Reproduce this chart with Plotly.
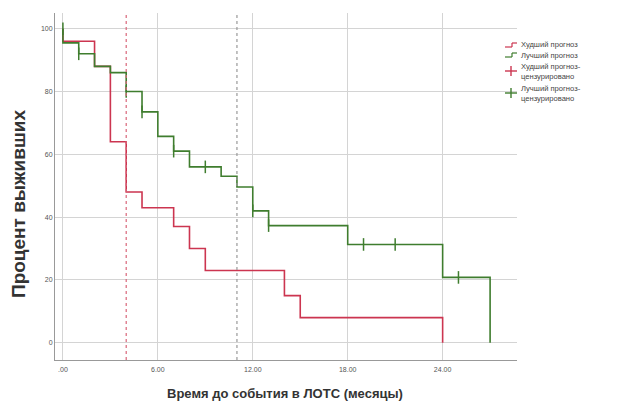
import plotly.graph_objects as go

# Survival step data (months, percent)
worse_t = [0, 0, 2, 3, 4, 5, 7, 8, 9, 14, 15, 24]
worse_s = [100, 96, 88, 64, 48, 43, 37, 30, 23, 15, 8, 0]
better_t = [0, 0, 1, 2, 3, 4, 5, 6, 7, 8, 10, 11, 12, 13, 18, 24, 27]
better_s = [100, 95.5, 92, 88, 86, 80, 73.5, 65.7, 61, 56, 53, 49.6, 42, 37.3, 31.3, 20.8, 0]
better_cens_t = [0, 1, 4, 5, 7, 9, 12, 13, 19, 21, 25]
better_cens_s = [100, 92, 80, 73.5, 61, 56, 42, 37.3, 31.3, 31.3, 20.8]
ref_lines = [4, 11]
ref_colors = ["#d9667a", "#999999"]
x_ticks = [0, 6, 12, 18, 24]
x_labels = [".00", "6.00", "12.00", "18.00", "24.00"]
y_ticks = [0, 20, 40, 60, 80, 100]
legend_names = ["Худший прогноз", "Лучший прогноз",
                "Худший прогноз-<br>цензурировано", "Лучший прогноз-<br>цензурировано"]

RED = "#cc3550"
GREEN = "#3f7d2e"

# page is rendered with an 8px body margin; figure sized to fit window
W, H = 616, 394
PL, PR, PT, PB = 55, 517, 13, 360  # plot area in page pixels


def px(xp):
    return (xp - PL) / (PR - PL)


def py(yp):
    return (PB - yp) / (PB - PT)


fig = go.Figure()
fig.add_trace(go.Scatter(x=worse_t, y=worse_s, mode="lines", line_shape="hv",
                         line=dict(color=RED, width=1.6), showlegend=False))
fig.add_trace(go.Scatter(x=better_t, y=better_s, mode="lines", line_shape="hv",
                         line=dict(color=GREEN, width=1.6), showlegend=False))
fig.add_trace(go.Scatter(x=better_cens_t, y=better_cens_s, mode="markers",
                         marker=dict(symbol="line-ns", size=9, line=dict(color=GREEN, width=1.5)),
                         showlegend=False))

shapes = []
annots = []

for xv, col in zip(ref_lines, ref_colors):
    shapes.append(dict(type="line", xref="x", yref="paper", x0=xv, x1=xv, y0=0, y1=1,
                       line=dict(color=col, width=1.2, dash="dot"), layer="above"))


def seg(xa, ya, xb, yb, col, w):
    shapes.append(dict(type="line", xref="paper", yref="paper",
                       x0=px(xa), x1=px(xb), y0=py(ya), y1=py(yb),
                       line=dict(color=col, width=w)))


# manual compact legend
leg_text_x = 519
leg_rows = [45, 55, 71, 93]
leg_colors = [RED, GREEN, RED, GREEN]
for i, (name, yy, col) in enumerate(zip(legend_names, leg_rows, leg_colors)):
    annots.append(dict(text=name, x=px(leg_text_x), y=py(yy), xref="paper", yref="paper",
                       xanchor="left", yanchor="middle", align="left", showarrow=False,
                       font=dict(size=7.6, color="#444")))
    if i < 2:
        seg(505, yy + 2, 512, yy + 2, col, 1.2)
        seg(512, yy + 2, 512, yy - 2, col, 1.2)
        seg(512, yy - 2, 517, yy - 2, col, 1.2)
    else:
        seg(505, yy, 517, yy, col, 1.4)
        seg(511, yy - 5, 511, yy + 5, col, 1.4)

annots.append(dict(text="<b>Процент выживших</b>", x=0, y=py(204), xref="paper", yref="paper",
                   xshift=-37, textangle=-90, showarrow=False, xanchor="center", yanchor="middle",
                   font=dict(size=19, color="#333")))
annots.append(dict(text="<b>Время до события в ЛОТС (месяцы)</b>", x=px(285), y=py(393),
                   xref="paper", yref="paper", showarrow=False, xanchor="center", yanchor="middle",
                   font=dict(size=13, color="#333")))

fig.update_layout(
    width=W, height=H,
    margin=dict(l=PL - 8, r=624 - PR, t=PT - 8, b=402 - PB),
    plot_bgcolor="white", paper_bgcolor="white",
    font=dict(family="Liberation Sans, Arial, sans-serif", size=7, color="#333"),
    showlegend=False,
    xaxis=dict(range=[-0.5, 28.7], tickvals=x_ticks, ticktext=x_labels,
               showgrid=True, gridcolor="#d4d4d4", gridwidth=1, zeroline=False,
               showline=True, linecolor="#999", linewidth=1, ticks="",
               ticklabelstandoff=3, tickfont=dict(size=7, color="#555")),
    yaxis=dict(range=[-5.5, 105], tickvals=y_ticks,
               showgrid=True, gridcolor="#d4d4d4", gridwidth=1, zeroline=False,
               showline=True, linecolor="#999", linewidth=1, ticks="",
               tickfont=dict(size=7, color="#555")),
    shapes=shapes,
    annotations=annots,
)

fig.write_html("out.html")
